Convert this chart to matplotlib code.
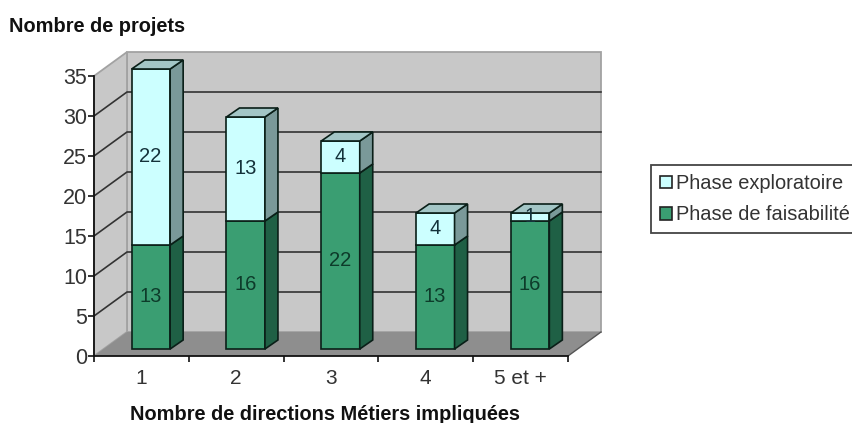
import matplotlib
matplotlib.use("Agg")
import matplotlib.pyplot as plt
from matplotlib.patches import Polygon, Patch

plt.rcParams['font.family'] = ['Liberation Sans', 'DejaVu Sans']

categories = ['1', '2', '3', '4', '5 et +']
faisabilite = [13, 16, 22, 13, 16]
exploratoire = [22, 13, 4, 4, 1]
y_ticks = [0, 5, 10, 15, 20, 25, 30, 35]

W, H = 853, 423
L, R, T, B = 94, 568, 76, 356   # front plane of the plot, in pixels
fig = plt.figure(figsize=(W/100, H/100), dpi=100)
ax = fig.add_axes([L/W, 1-B/H, (R-L)/W, (B-T)/H])
ax.set_xlim(0, 5)
ax.set_ylim(0, 35)
ax.patch.set_alpha(0)
px = 5/(R-L)
py = 35/(B-T)

# depth of the plot box and of the bars
DX, DY = 33*px, 24*py
OX, OY = 9.5*px, 7*py
BX, BY = 13*px, 9*py
BW = 38.5*px

WALL = '#c8c8c8'
FLOOR = '#8e8e8e'
EDGE = '#a2a2a2'
GRID = '#333333'
LIGHT = ('#ccffff', '#a3c6c6', '#7a9999')
GREEN = ('#3a9e72', '#2f7f5c', '#1f6045')
KW = dict(clip_on=False)

# walls and floor
ax.add_patch(Polygon([(DX, DY), (5+DX, DY), (5+DX, 35+DY), (DX, 35+DY)],
                     fc=WALL, ec=EDGE, lw=1.3, zorder=1, **KW))
ax.add_patch(Polygon([(0, 0), (DX, DY), (DX, 35+DY), (0, 35)],
                     fc=WALL, ec=EDGE, lw=1.3, zorder=1, **KW))
ax.add_patch(Polygon([(0, 0), (5, 0), (5+DX, DY), (DX, DY)],
                     fc=FLOOR, ec='none', zorder=2, **KW))
ax.plot([5, 5+DX], [0, DY], color='#555555', lw=1.0, zorder=2, **KW)

# gridlines on both walls
for v in y_ticks[1:-1]:
    ax.plot([0, DX, 5+DX], [v, v+DY, v+DY], color=GRID, lw=1.2, zorder=2, **KW)


def box(x0, y0, h, cols, zorder, top=False):
    x1 = x0+BW
    ax.add_patch(Polygon([(x0, y0), (x1, y0), (x1, y0+h), (x0, y0+h)],
                         fc=cols[0], ec='#0a1f18', lw=1.2, zorder=zorder, **KW))
    ax.add_patch(Polygon([(x1, y0), (x1+BX, y0+BY), (x1+BX, y0+h+BY), (x1, y0+h)],
                         fc=cols[2], ec='#0a1f18', lw=1.2, zorder=zorder, **KW))
    if top:
        ax.add_patch(Polygon([(x0, y0+h), (x1, y0+h), (x1+BX, y0+h+BY), (x0+BX, y0+h+BY)],
                             fc=cols[1], ec='#0a1f18', lw=1.2, zorder=zorder, **KW))


for i in range(len(categories)):
    x0 = i+0.5+OX-BW/2
    xc = x0+BW/2-0.5*px
    f, e = faisabilite[i], exploratoire[i]
    box(x0, OY, f, GREEN, 5)
    box(x0, OY+f, e, LIGHT, 6, top=True)
    ax.text(xc, OY+f/2, str(f), ha='center', va='center', fontsize=14.5,
            color='#0d3b2a', zorder=8)
    ax.text(xc, OY+f+e/2, str(e), ha='center', va='center', fontsize=14.5,
            color='#14323a', zorder=8)

# axes
for s in ('top', 'right'):
    ax.spines[s].set_visible(False)
for s in ('left', 'bottom'):
    ax.spines[s].set_color('#111111')
    ax.spines[s].set_linewidth(1.3)
    ax.spines[s].set_zorder(4)
ax.set_yticks(y_ticks)
ax.set_xticks([i+0.5 for i in range(5)])
ax.set_xticklabels(categories)
ax.set_xticks(range(6), minor=True)
ax.tick_params(axis='x', which='major', length=0, labelsize=15, pad=9, labelcolor='#333333')
ax.tick_params(axis='x', which='minor', length=4, width=1.2, color='#111111')
ax.tick_params(axis='y', length=4, width=1.2, color='#111111', labelsize=15.5,
               pad=1, labelcolor='#333333')

# titles
fig.text(9/W, 1-26/H, 'Nombre de projets', fontsize=14.4, fontweight='bold',
         ha='left', va='center', color='#111111')
fig.text(325/W, 1-414/H, 'Nombre de directions Métiers impliquées', fontsize=14.4,
         fontweight='bold', ha='center', va='center', color='#111111')

# legend
handles = [Patch(fc=LIGHT[0], ec='#222222', lw=1.2, label='Phase exploratoire'),
           Patch(fc=GREEN[0], ec='#222222', lw=1.2, label='Phase de faisabilité')]
leg = fig.legend(handles=handles, loc='upper left', bbox_to_anchor=(651/W, 1-165/H),
                 fontsize=14.4, frameon=True, fancybox=False, edgecolor='#444444',
                 facecolor='white', framealpha=1, handlelength=0.6, handleheight=0.6,
                 handletextpad=0.2, borderpad=0.45, labelspacing=0.62,
                 borderaxespad=0, labelcolor='#333333')
leg.get_frame().set_linewidth(1.3)

fig.savefig('out.png', dpi=100)
